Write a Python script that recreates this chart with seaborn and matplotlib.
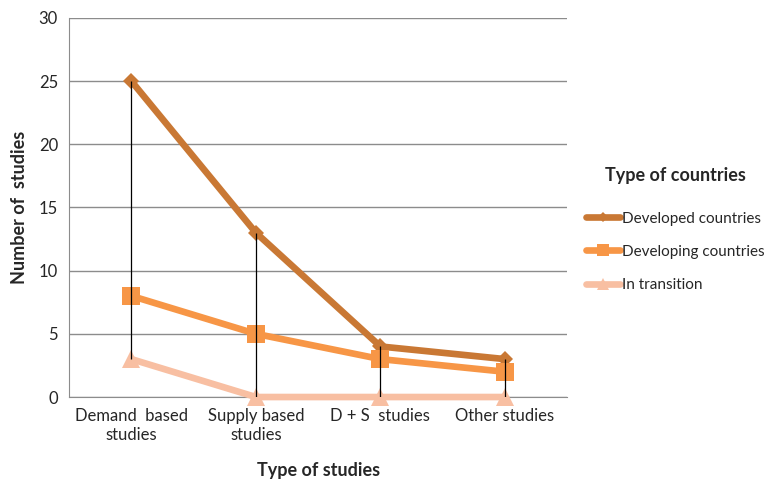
import numpy as np
import pandas as pd
import matplotlib
matplotlib.use('Agg')
import matplotlib.pyplot as plt
import seaborn as sns
from matplotlib.lines import Line2D

studies = ['Demand  based\nstudies', 'Supply based\nstudies', 'D + S  studies', 'Other studies']
developed = [25, 13, 4, 3]
developing = [8, 5, 3, 2]
transition = [3, 0, 0, 0]
series_names = ['Developed countries', 'Developing countries', 'In transition']

df = pd.DataFrame({
    'study': studies * 3,
    'count': developed + developing + transition,
    'country': [n for n in series_names for _ in studies],
})

sns.set_style('white')
plt.rcParams['font.family'] = ['Lato', 'DejaVu Sans']

colors = {'Developed countries': '#C97834', 'Developing countries': '#F79646', 'In transition': '#F8BFA2'}
markers = {'Developed countries': 'D', 'Developing countries': 's', 'In transition': '^'}
msizes = {'Developed countries': 8, 'Developing countries': 13, 'In transition': 13}

fig = plt.figure(figsize=(7.76, 4.83), dpi=100)
ax = fig.add_axes([0.089, 0.178, 0.642, 0.785])

x = np.arange(len(studies))

sns.lineplot(data=df, x='study', y='count', hue='country', style='country',
             markers=markers, dashes=False, palette=colors, lw=4.8,
             markersize=9, markeredgewidth=0, sort=False, ax=ax, legend=False, zorder=3)
for line, n in zip(ax.get_lines(), series_names):
    line.set_markersize(msizes[n])
    line.set_clip_on(False)

# high-low lines
lows = np.minimum.reduce([developed, developing, transition])
highs = np.maximum.reduce([developed, developing, transition])
ax.vlines(x, lows, highs, color='black', lw=0.9, zorder=6)

ax.set_xlim(-0.5, 3.5)
ax.set_ylim(0, 30)
ax.set_yticks(range(0, 31, 5))
ax.yaxis.grid(True, color='#8c8c8c', lw=1)
ax.set_axisbelow(True)
for s in ['top', 'right']:
    ax.spines[s].set_visible(False)
ax.spines['left'].set_color('#8c8c8c')
ax.spines['bottom'].set_color('#8c8c8c')
ax.tick_params(axis='y', length=5, color='#8c8c8c', labelsize=12, pad=3)
ax.tick_params(axis='x', length=0, labelsize=12, pad=8)
ax.set_xticks(x)
ax.set_xticklabels(studies)
ax.set_xlabel('Type of studies', fontsize=13, fontweight='bold', labelpad=14)
ax.set_ylabel('Number of  studies', fontsize=13, fontweight='bold', labelpad=8)

handles = [Line2D([], [], color=colors[n], marker=markers[n], lw=4.8,
                  markersize=msizes[n] * 0.7, markeredgewidth=0)
           for n in series_names]
leg = fig.legend(handles, series_names, title='Type of countries', loc='center left',
                 bbox_to_anchor=(0.738, 0.525), frameon=False, fontsize=11,
                 title_fontproperties={'weight': 'bold', 'size': 13},
                 handlelength=2.2, handletextpad=0.1, labelspacing=1.25)
leg._legend_box.sep = 20

fig.savefig('out.png', dpi=100)
